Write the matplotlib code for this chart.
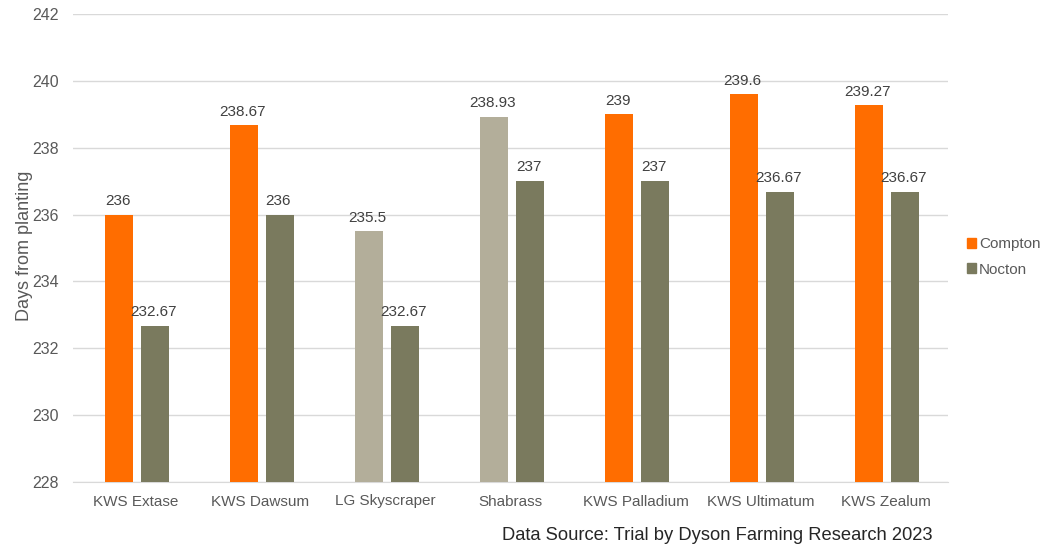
import numpy as np
import matplotlib.pyplot as plt
from matplotlib.patches import Patch

plt.rcParams['font.family'] = ['Liberation Sans', 'DejaVu Sans']

varieties = ['KWS Extase', 'KWS Dawsum', 'LG Skyscraper', 'Shabrass',
             'KWS Palladium', 'KWS Ultimatum', 'KWS Zealum']
compton = [236, 238.67, 235.5, 238.93, 239, 239.6, 239.27]
nocton = [232.67, 236, 232.67, 237, 237, 236.67, 236.67]
compton_labels = ['236', '238.67', '235.5', '238.93', '239', '239.6', '239.27']
nocton_labels = ['232.67', '236', '232.67', '237', '237', '236.67', '236.67']
# LG Skyscraper and Shabrass Compton bars are drawn in a muted colour
muted = [False, False, True, True, False, False, False]

c_orange = '#FF6D00'
c_muted = '#B3AE9A'
c_nocton = '#7A7A5E'

fig = plt.figure(figsize=(10.53, 5.47), dpi=100)
ax = fig.add_axes([73 / 1053, 1 - 482 / 547, 875 / 1053, 468 / 547])

x = np.arange(len(varieties))
w = 0.224
off = 0.144
base = 228
ccols = [c_muted if m else c_orange for m in muted]
ax.bar(x - off + 0.008, np.array(compton) - base, w, bottom=base, color=ccols, zorder=3)
ax.bar(x + off + 0.008, np.array(nocton) - base, w, bottom=base, color=c_nocton, zorder=3)

for xi, v, s in zip(x, compton, compton_labels):
    ax.text(xi - off, v + 0.2, s, ha='center', va='bottom', fontsize=11, color='#404040')
for xi, v, s in zip(x, nocton, nocton_labels):
    ax.text(xi + off, v + 0.2, s, ha='center', va='bottom', fontsize=11, color='#404040')

ax.set_xlim(-0.5, 6.5)
ax.set_ylim(228, 242)
ax.set_yticks(np.arange(228, 243, 2))
ax.set_xticks(x)
ax.set_xticklabels(varieties)
ax.tick_params(length=0, labelsize=11, labelcolor='#595959')
ax.tick_params(axis='y', labelsize=11.5, pad=10)
ax.tick_params(axis='x', pad=9)
ax.grid(axis='y', color='#D9D9D9', lw=1, zorder=0)
for s in ['top', 'right', 'left']:
    ax.spines[s].set_visible(False)
ax.spines['bottom'].set_color('#D9D9D9')
fig.text(25 / 1053, 1 - 246 / 547, 'Days from planting', rotation=90,
         ha='center', va='center', fontsize=13, color='#595959')

handles = [Patch(color=c_orange, label='Compton'), Patch(color=c_nocton, label='Nocton')]
fig.legend(handles=handles, loc='center left', bbox_to_anchor=(953 / 1053, 1 - 257 / 547),
           frameon=False, fontsize=11, handlelength=0.6, handleheight=0.6,
           handletextpad=0.2, labelspacing=0.75, labelcolor='#595959')

fig.text(933 / 1053, 1 - 535 / 547, 'Data Source: Trial by Dyson Farming Research 2023',
         ha='right', va='center', fontsize=13.2, color='#262626')

fig.savefig('out.png', dpi=100)
